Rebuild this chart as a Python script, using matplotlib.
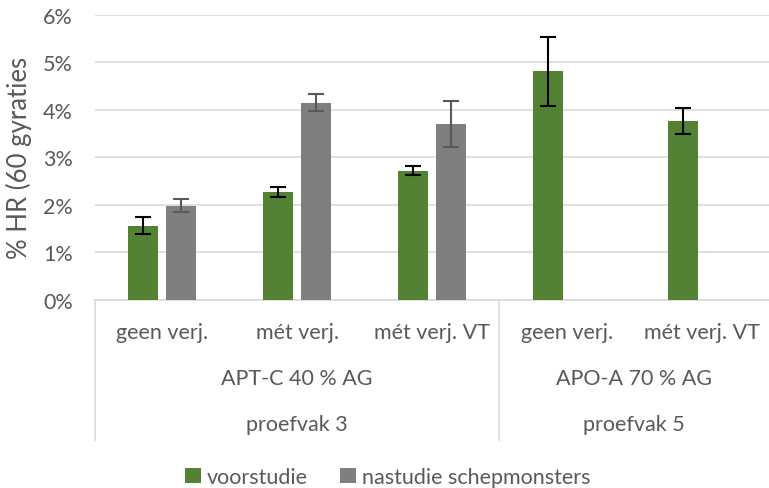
"""Bar chart: % HR (60 gyraties) per proefvak, voorstudie vs nastudie."""

import matplotlib.pyplot as plt
import matplotlib.transforms as mtransforms
import numpy as np
from matplotlib.ticker import PercentFormatter

categories = ["geen verj.", "mét verj.", "mét verj. VT", "geen verj.", "mét verj. VT"]
mixes = ["APT-C 40 % AG", "APO-A 70 % AG"]
vakken = ["proefvak 3", "proefvak 5"]
group_sizes = [3, 2]

voorstudie = [1.56, 2.27, 2.72, 4.81, 3.76]
voorstudie_err = [0.18, 0.11, 0.10, 0.73, 0.28]
nastudie = [1.98, 4.15, 3.70, np.nan, np.nan]
nastudie_err = [0.14, 0.18, 0.48, np.nan, np.nan]

GREEN = "#548235"
GREY = "#7f7f7f"
TEXT = "#595959"
LINE = "#d9d9d9"
FS = 15.5

plt.rcParams["font.family"] = ["Lato", "DejaVu Sans"]

fig = plt.figure(figsize=(7.69, 4.89), dpi=100)
ax = fig.add_axes([0.1235, 0.3845, 0.8765, 0.5835])

x = np.arange(len(categories))
width = 0.222
offset = 0.141

ax.bar(x - offset, voorstudie, width, color=GREEN, label="voorstudie", zorder=3)
ax.bar(x + offset, nastudie, width, color=GREY, label="nastudie schepmonsters", zorder=3)
ax.errorbar(x - offset, voorstudie, yerr=voorstudie_err, fmt="none", ecolor="black",
            elinewidth=1.5, capsize=5.5, capthick=1.5, zorder=4)
ax.errorbar(x + offset, nastudie, yerr=nastudie_err, fmt="none", ecolor="#595959",
            elinewidth=1.5, capsize=5.5, capthick=1.5, zorder=4)

ax.set_xlim(-0.5, len(categories) - 0.5)
ax.set_ylim(0, 6)
ax.set_yticks(np.arange(0, 7, 1))
ax.yaxis.set_major_formatter(PercentFormatter(decimals=0))
ax.grid(axis="y", color=LINE, linewidth=1.2, zorder=0)
ax.set_axisbelow(True)
for side in ["top", "right", "left"]:
    ax.spines[side].set_visible(False)
ax.spines["bottom"].set_color(LINE)
ax.spines["bottom"].set_linewidth(1.2)
ax.tick_params(axis="y", length=0, labelsize=FS, colors=TEXT, pad=16)
ax.tick_params(axis="x", length=0, labelbottom=False)
ax.set_ylabel("% HR (60 gyraties", fontsize=18.5, color=TEXT, labelpad=8)

# multi-level category axis
trans = mtransforms.blended_transform_factory(ax.transData, ax.transAxes)
line_bottom = -0.491
for xi, label in zip(x, categories):
    ax.text(xi, -0.112, label, transform=trans, ha="center", va="center",
            fontsize=FS, color=TEXT)

start = 0
edges = [-0.5]
for mix, vak, size in zip(mixes, vakken, group_sizes):
    centre = start + (size - 1) / 2
    ax.text(centre, -0.274, mix, transform=trans, ha="center", va="center",
            fontsize=FS, color=TEXT)
    ax.text(centre, -0.435, vak, transform=trans, ha="center", va="center",
            fontsize=FS, color=TEXT)
    start += size
    edges.append(start - 0.5)

for edge in edges[:-1]:
    ax.plot([edge, edge], [0, line_bottom], transform=trans, color=LINE,
            linewidth=1.2, clip_on=False)

leg = fig.legend(loc="center", bbox_to_anchor=(388 / 769, 1 - 478 / 489), ncol=2,
                 frameon=False, fontsize=FS, handlelength=0.72, handleheight=0.72,
                 handletextpad=0.3, columnspacing=1.5, borderpad=0)
for text in leg.get_texts():
    text.set_color(TEXT)

fig.savefig("out.png", dpi=100)
